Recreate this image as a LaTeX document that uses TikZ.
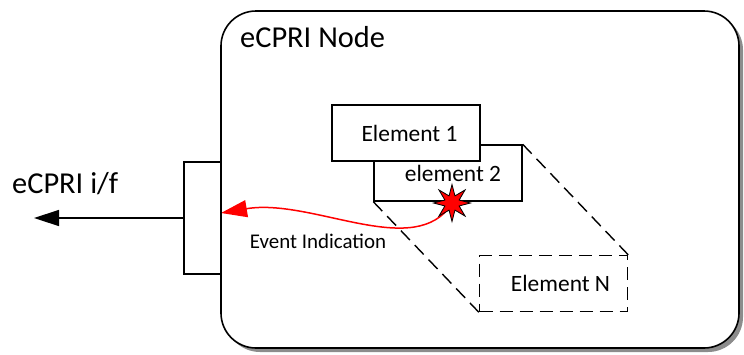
\documentclass[tikz,border=0pt]{standalone}
\usepackage{fontspec}
\setmainfont{Carlito}
\usetikzlibrary{shapes.geometric,arrows.meta,shadows}
\pgfdeclarelayer{behind}
\pgfdeclarelayer{mid}
\pgfsetlayers{behind,mid,main}
\begin{document}
\begin{tikzpicture}[x=1bp,y=-1bp,
  boxstyle/.style={draw=black,line width=1.4bp,fill=white,rectangle,inner sep=0,
     minimum width=148bp,minimum height=56bp,font=\fontsize{23.5}{28}\selectfont},
  dashbox/.style={boxstyle,dash pattern=on 13bp off 7bp},
  dashline/.style={draw=black,line width=1.4bp,dash pattern=on 13bp off 7bp},
  bigtext/.style={font=\fontsize{30.5}{36}\selectfont,inner sep=0,anchor=base west},
  smalltext/.style={font=\fontsize{21}{25}\selectfont,inner sep=0,anchor=base}]
\useasboundingbox (0,0) rectangle (744,354);
% container
\begin{pgfonlayer}{behind}
\node[draw=black,line width=1.6bp,fill=white,rectangle,rounded corners=35bp,
  minimum width=518bp,minimum height=337bp,inner sep=0,
  drop shadow={shadow xshift=4bp,shadow yshift=-4bp,fill=black!45,opacity=1}]
  (ecprinode) at (480,179.5) {};
\end{pgfonlayer}
\node[bigtext] (title) at (240,47) {eCPRI Node};
% port
\node[draw=black,line width=1.4bp,fill=white,rectangle,inner sep=0,
  minimum width=37bp,minimum height=112bp] (port) at (202.5,218) {};
\coordinate (ifend) at (34,218);
\draw[line width=1.4bp,-{Triangle[length=25bp,width=16bp]}] (port.west) -- (ifend);
\node[bigtext] (iflabel) at (12,193) {eCPRI i/f};
% elements
\node[dashbox] (eN) at (553.5,283.5) {\hspace*{14bp}Element N};
\node[boxstyle] (e2) at (448,173) {\hspace*{10bp}element 2};
\node[boxstyle] (e1) at (406,133) {\hspace*{7bp}Element 1};
\draw[dashline] (e2.south west) -- (eN.south west);
\draw[dashline] (e2.north east) -- (eN.north east);
% star and event
\node[star,star points=8,star point ratio=2.4,draw=black,line width=0.8bp,fill=red,
  inner sep=0,minimum size=37bp] (evstar) at (452,203) {};
\coordinate (evtip) at (221,213);
\begin{pgfonlayer}{mid}
\draw[red,line width=1.5bp,-{Triangle[length=26bp,width=17bp]}]
  (evstar.center) ++(-4,6) .. controls (408,257) and (310,198) .. (evtip);
\end{pgfonlayer}
\node[smalltext] (evlabel) at (318,248) {Event Indication};
\end{tikzpicture}
\end{document}
